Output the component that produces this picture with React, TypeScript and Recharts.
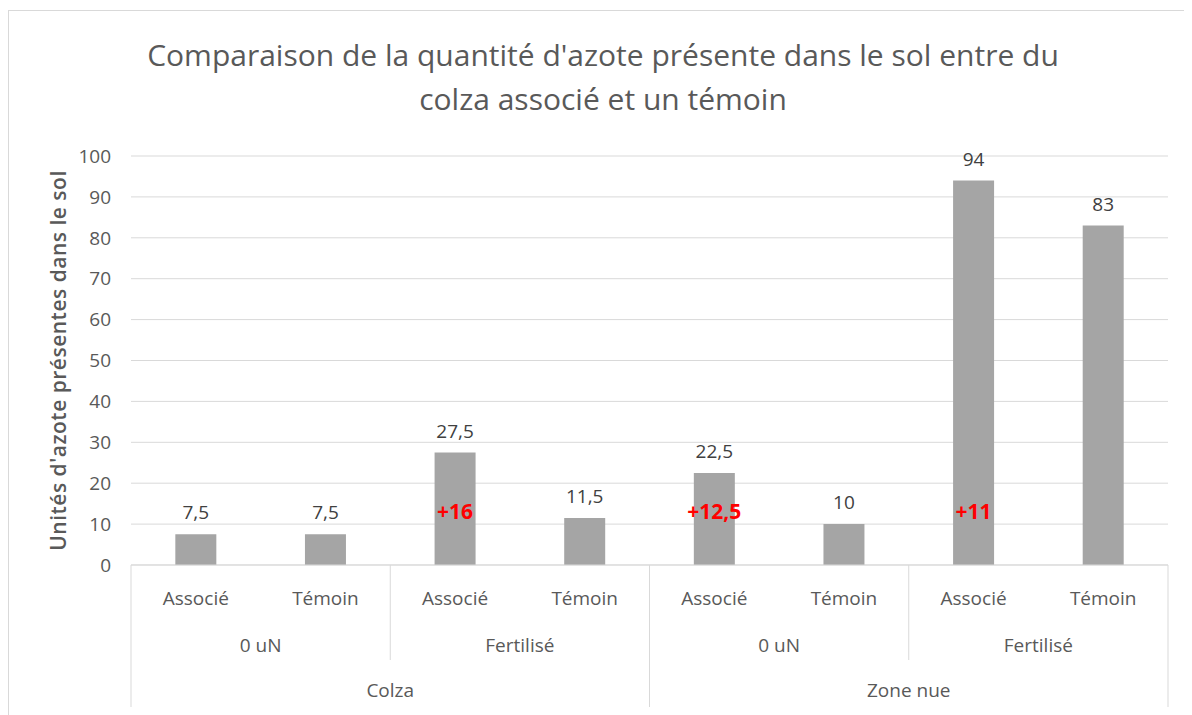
import React from 'react';
import { BarChart, Bar, XAxis, YAxis, CartesianGrid, LabelList } from 'recharts';

// Values
const categories = ['Associé', 'Témoin', 'Associé', 'Témoin', 'Associé', 'Témoin', 'Associé', 'Témoin'];
const treatments = ['0 uN', 'Fertilisé', '0 uN', 'Fertilisé'];
const zones = ['Colza', 'Zone nue'];
const azote = [7.5, 7.5, 27.5, 11.5, 22.5, 10, 94, 83];
const ecarts = ['', '', '+16', '', '+12,5', '', '+11', ''];
const yTicks = [0, 10, 20, 30, 40, 50, 60, 70, 80, 90, 100];

const data = categories.map((c, i) => ({ name: `${c}-${i}`, label: c, value: azote[i], ecart: ecarts[i] }));

const FONT = '"Open Sans", sans-serif';
const GRID = '#D9D9D9';
const TEXT = '#595959';
const TICK_SIZE = 19;

const fmt = (v: number) => String(v).replace('.', ',');

// multi-level category axis: type / treatment / zone
function MultiTick(props: any) {
  const { x, y, index, payload, width, visibleTicksCount } = props;
  const band = payload?.offset ? payload.offset * 2 : width / visibleTicksCount;
  const last = index === visibleTicksCount - 1;
  return (
    <g>
      <text x={x} y={y + 40} textAnchor="middle" fill={TEXT} fontSize={TICK_SIZE} fontFamily={FONT}>
        {categories[index]}
      </text>
      {index % 2 === 0 && (
        <>
          <line x1={x - band / 2} x2={x - band / 2} y1={y} y2={y + (index % 4 === 0 ? 142 : 95)} stroke={GRID} />
          <text x={x + band / 2} y={y + 87} textAnchor="middle" fill={TEXT} fontSize={TICK_SIZE} fontFamily={FONT}>
            {treatments[index / 2]}
          </text>
        </>
      )}
      {index % 4 === 0 && (
        <text x={x + band * 1.5} y={y + 132} textAnchor="middle" fill={TEXT} fontSize={TICK_SIZE} fontFamily={FONT}>
          {zones[index / 4]}
        </text>
      )}
      {last && <line x1={x + band / 2} x2={x + band / 2} y1={y} y2={y + 142} stroke={GRID} />}
    </g>
  );
}

function EcartLabel(props: any) {
  const { x, y, width, height, value } = props;
  if (!value) return null;
  return (
    <text
      x={x + width / 2}
      y={y + height - 54}
      textAnchor="middle"
      dominantBaseline="central"
      fill="#FF0000"
      fontWeight={700}
      fontSize={21}
      fontFamily={FONT}
    >
      {value}
    </text>
  );
}

function YTitle(props: any) {
  const { viewBox } = props;
  const cx = viewBox.x - 13;
  const cy = viewBox.y + viewBox.height / 2;
  return (
    <text
      x={cx}
      y={cy}
      transform={`rotate(-90, ${cx}, ${cy})`}
      textAnchor="middle"
      dominantBaseline="central"
      fill={TEXT}
      fontSize={21}
      fontWeight={600}
      letterSpacing={0.5}
      fontFamily={FONT}
    >
      Unités d'azote présentes dans le sol
    </text>
  );
}

export default function App() {
  return (
    <div
      style={{
        position: 'relative',
        width: 1184,
        height: 705,
        marginTop: 2,
        borderLeft: `1px solid ${GRID}`,
        borderTop: `1px solid ${GRID}`,
        background: '#fff',
        fontFamily: FONT,
      }}
    >
      <div
        style={{
          position: 'absolute',
          left: 0,
          width: 1188,
          top: 22,
          textAlign: 'center',
          color: TEXT,
          fontSize: 30,
          lineHeight: '44px',
        }}
      >
        Comparaison de la quantité d'azote présente dans le sol entre du
        <br />
        colza associé et un témoin
      </div>
      <BarChart
        width={1183}
        height={704}
        data={data}
        margin={{ top: 145, right: 24, left: 62, bottom: 10 }}
        barCategoryGap="34.2%"
      >
        <CartesianGrid vertical={false} stroke={GRID} />
        <XAxis
          dataKey="name"
          interval={0}
          height={140}
          tickSize={0}
          tickMargin={0}
          tickLine={false}
          axisLine={{ stroke: GRID }}
          tick={<MultiTick />}
        />
        <YAxis
          domain={[0, 100]}
          ticks={yTicks}
          width={60}
          tickSize={0}
          tickMargin={20}
          axisLine={false}
          tickLine={false}
          tick={{ fill: TEXT, fontSize: TICK_SIZE, fontFamily: FONT }}
          label={<YTitle />}
        />
        <Bar dataKey="value" fill="#A5A5A5" isAnimationActive={false}>
          <LabelList
            dataKey="value"
            position="top"
            offset={15}
            formatter={(v: any) => fmt(v)}
            fill="#404040"
            fontSize={TICK_SIZE}
            fontFamily={FONT}
          />
          <LabelList dataKey="ecart" content={<EcartLabel />} />
        </Bar>
      </BarChart>
    </div>
  );
}
